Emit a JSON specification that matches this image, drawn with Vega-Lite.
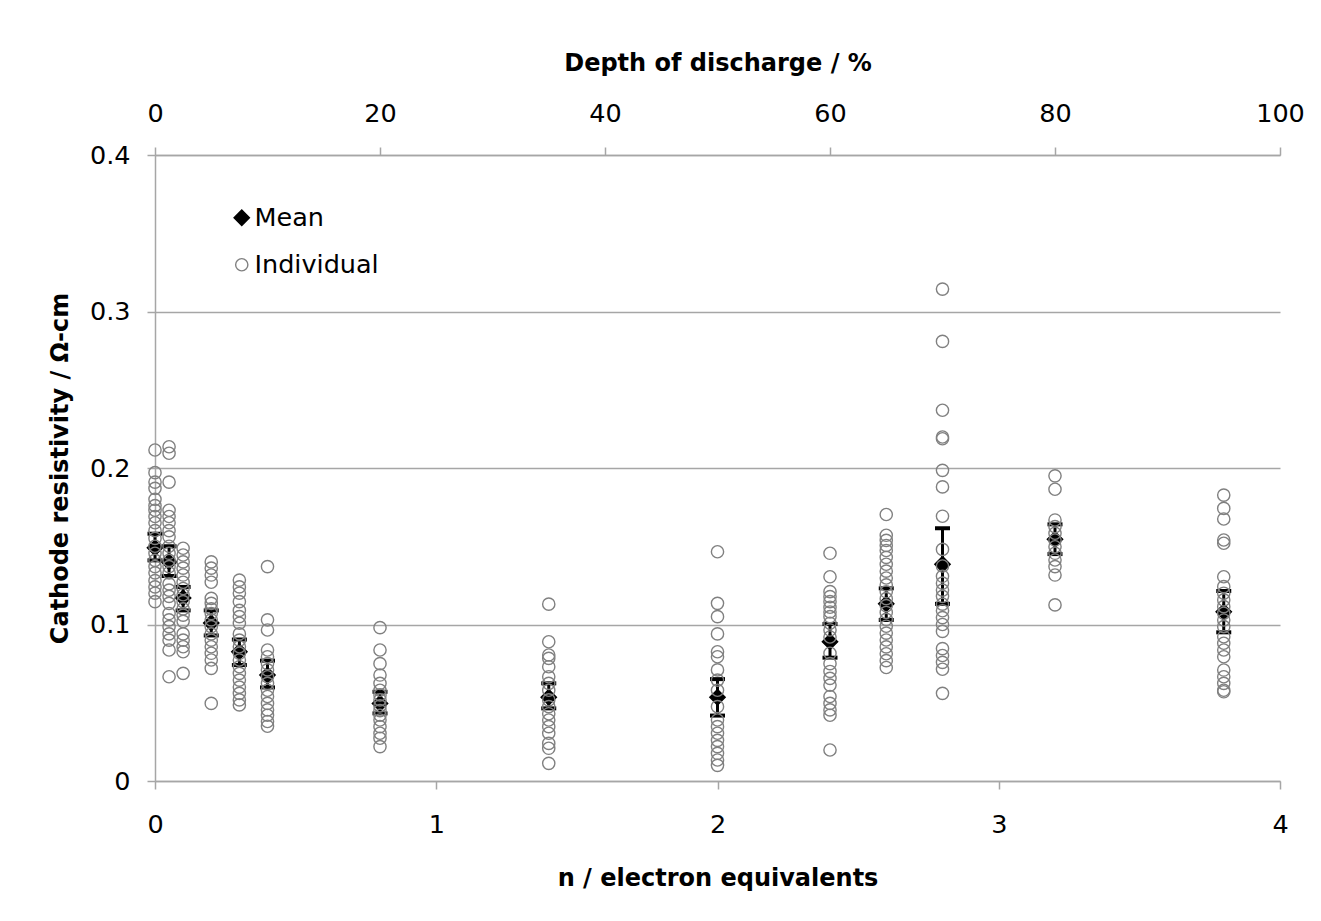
{
  "$schema": "https://vega.github.io/schema/vega-lite/v6.json",
  "width": 1125,
  "height": 626,
  "autosize": {"type": "none"},
  "padding": {"left": 155, "top": 155, "right": 41, "bottom": 140},
  "background": "white",
  "config": {
    "view": {"stroke": null},
    "font": "DejaVu Sans",
    "axis": {
      "domainColor": "#a6a6a6", "domainWidth": 1.5,
      "tickColor": "#a6a6a6", "tickWidth": 1.5, "tickSize": 8,
      "gridColor": "#a6a6a6", "gridWidth": 1.3,
      "labelFont": "DejaVu Sans", "labelFontSize": 25.5, "labelColor": "#000000",
      "labelFlush": false, "labelOverlap": false,
      "titleFont": "DejaVu Sans", "titleFontSize": 24, "titleFontWeight": "bold", "titleColor": "#000000"
    },
    "legend": {
      "labelFont": "DejaVu Sans", "labelFontSize": 25.5, "labelColor": "#000000",
      "labelOffset": 0, "rowPadding": 20, "symbolStrokeWidth": 1.4
    }
  },
  "datasets": {
    "means": [
      {"n": 0, "mean": 0.149, "lo": 0.141, "hi": 0.158, "series": "Mean"},
      {"n": 0.05, "mean": 0.140, "lo": 0.131, "hi": 0.150, "series": "Mean"},
      {"n": 0.1, "mean": 0.117, "lo": 0.109, "hi": 0.124, "series": "Mean"},
      {"n": 0.2, "mean": 0.101, "lo": 0.093, "hi": 0.109, "series": "Mean"},
      {"n": 0.3, "mean": 0.0826, "lo": 0.0741, "hi": 0.0904, "series": "Mean"},
      {"n": 0.4, "mean": 0.0677, "lo": 0.0598, "hi": 0.0769, "series": "Mean"},
      {"n": 0.8, "mean": 0.0496, "lo": 0.0432, "hi": 0.057, "series": "Mean"},
      {"n": 1.4, "mean": 0.0535, "lo": 0.0464, "hi": 0.0624, "series": "Mean"},
      {"n": 2.0, "mean": 0.0535, "lo": 0.0418, "hi": 0.0651, "series": "Mean"},
      {"n": 2.4, "mean": 0.089, "lo": 0.0788, "hi": 0.1003, "series": "Mean"},
      {"n": 2.6, "mean": 0.1132, "lo": 0.1029, "hi": 0.1231, "series": "Mean"},
      {"n": 2.8, "mean": 0.1385, "lo": 0.1132, "hi": 0.1615, "series": "Mean"},
      {"n": 3.2, "mean": 0.1544, "lo": 0.145, "hi": 0.164, "series": "Mean"},
      {"n": 3.8, "mean": 0.1081, "lo": 0.095, "hi": 0.1214, "series": "Mean"}
    ],
    "indiv": [
      {"n": 0, "r": 0.2115, "series": "Individual"},
      {"n": 0, "r": 0.197, "series": "Individual"},
      {"n": 0, "r": 0.191, "series": "Individual"},
      {"n": 0, "r": 0.187, "series": "Individual"},
      {"n": 0, "r": 0.180, "series": "Individual"},
      {"n": 0, "r": 0.176, "series": "Individual"},
      {"n": 0, "r": 0.173, "series": "Individual"},
      {"n": 0, "r": 0.169, "series": "Individual"},
      {"n": 0, "r": 0.165, "series": "Individual"},
      {"n": 0, "r": 0.160, "series": "Individual"},
      {"n": 0, "r": 0.155, "series": "Individual"},
      {"n": 0, "r": 0.150, "series": "Individual"},
      {"n": 0, "r": 0.1455, "series": "Individual"},
      {"n": 0, "r": 0.141, "series": "Individual"},
      {"n": 0, "r": 0.137, "series": "Individual"},
      {"n": 0, "r": 0.133, "series": "Individual"},
      {"n": 0, "r": 0.128, "series": "Individual"},
      {"n": 0, "r": 0.124, "series": "Individual"},
      {"n": 0, "r": 0.120, "series": "Individual"},
      {"n": 0, "r": 0.1146, "series": "Individual"},
      {"n": 0.05, "r": 0.2136, "series": "Individual"},
      {"n": 0.05, "r": 0.2094, "series": "Individual"},
      {"n": 0.05, "r": 0.191, "series": "Individual"},
      {"n": 0.05, "r": 0.173, "series": "Individual"},
      {"n": 0.05, "r": 0.169, "series": "Individual"},
      {"n": 0.05, "r": 0.165, "series": "Individual"},
      {"n": 0.05, "r": 0.160, "series": "Individual"},
      {"n": 0.05, "r": 0.156, "series": "Individual"},
      {"n": 0.05, "r": 0.150, "series": "Individual"},
      {"n": 0.05, "r": 0.1455, "series": "Individual"},
      {"n": 0.05, "r": 0.141, "series": "Individual"},
      {"n": 0.05, "r": 0.137, "series": "Individual"},
      {"n": 0.05, "r": 0.133, "series": "Individual"},
      {"n": 0.05, "r": 0.126, "series": "Individual"},
      {"n": 0.05, "r": 0.122, "series": "Individual"},
      {"n": 0.05, "r": 0.118, "series": "Individual"},
      {"n": 0.05, "r": 0.1135, "series": "Individual"},
      {"n": 0.05, "r": 0.107, "series": "Individual"},
      {"n": 0.05, "r": 0.103, "series": "Individual"},
      {"n": 0.05, "r": 0.0986, "series": "Individual"},
      {"n": 0.05, "r": 0.094, "series": "Individual"},
      {"n": 0.05, "r": 0.090, "series": "Individual"},
      {"n": 0.05, "r": 0.0837, "series": "Individual"},
      {"n": 0.05, "r": 0.0666, "series": "Individual"},
      {"n": 0.1, "r": 0.1487, "series": "Individual"},
      {"n": 0.1, "r": 0.1444, "series": "Individual"},
      {"n": 0.1, "r": 0.140, "series": "Individual"},
      {"n": 0.1, "r": 0.136, "series": "Individual"},
      {"n": 0.1, "r": 0.1316, "series": "Individual"},
      {"n": 0.1, "r": 0.127, "series": "Individual"},
      {"n": 0.1, "r": 0.123, "series": "Individual"},
      {"n": 0.1, "r": 0.119, "series": "Individual"},
      {"n": 0.1, "r": 0.1146, "series": "Individual"},
      {"n": 0.1, "r": 0.110, "series": "Individual"},
      {"n": 0.1, "r": 0.106, "series": "Individual"},
      {"n": 0.1, "r": 0.102, "series": "Individual"},
      {"n": 0.1, "r": 0.094, "series": "Individual"},
      {"n": 0.1, "r": 0.090, "series": "Individual"},
      {"n": 0.1, "r": 0.0858, "series": "Individual"},
      {"n": 0.1, "r": 0.0826, "series": "Individual"},
      {"n": 0.1, "r": 0.0688, "series": "Individual"},
      {"n": 0.2, "r": 0.140, "series": "Individual"},
      {"n": 0.2, "r": 0.136, "series": "Individual"},
      {"n": 0.2, "r": 0.1316, "series": "Individual"},
      {"n": 0.2, "r": 0.127, "series": "Individual"},
      {"n": 0.2, "r": 0.1167, "series": "Individual"},
      {"n": 0.2, "r": 0.1135, "series": "Individual"},
      {"n": 0.2, "r": 0.110, "series": "Individual"},
      {"n": 0.2, "r": 0.107, "series": "Individual"},
      {"n": 0.2, "r": 0.103, "series": "Individual"},
      {"n": 0.2, "r": 0.0986, "series": "Individual"},
      {"n": 0.2, "r": 0.094, "series": "Individual"},
      {"n": 0.2, "r": 0.090, "series": "Individual"},
      {"n": 0.2, "r": 0.0858, "series": "Individual"},
      {"n": 0.2, "r": 0.0816, "series": "Individual"},
      {"n": 0.2, "r": 0.0773, "series": "Individual"},
      {"n": 0.2, "r": 0.072, "series": "Individual"},
      {"n": 0.2, "r": 0.0496, "series": "Individual"},
      {"n": 0.3, "r": 0.1284, "series": "Individual"},
      {"n": 0.3, "r": 0.124, "series": "Individual"},
      {"n": 0.3, "r": 0.120, "series": "Individual"},
      {"n": 0.3, "r": 0.1146, "series": "Individual"},
      {"n": 0.3, "r": 0.109, "series": "Individual"},
      {"n": 0.3, "r": 0.105, "series": "Individual"},
      {"n": 0.3, "r": 0.1008, "series": "Individual"},
      {"n": 0.3, "r": 0.094, "series": "Individual"},
      {"n": 0.3, "r": 0.090, "series": "Individual"},
      {"n": 0.3, "r": 0.0858, "series": "Individual"},
      {"n": 0.3, "r": 0.0816, "series": "Individual"},
      {"n": 0.3, "r": 0.0773, "series": "Individual"},
      {"n": 0.3, "r": 0.073, "series": "Individual"},
      {"n": 0.3, "r": 0.0688, "series": "Individual"},
      {"n": 0.3, "r": 0.0645, "series": "Individual"},
      {"n": 0.3, "r": 0.060, "series": "Individual"},
      {"n": 0.3, "r": 0.056, "series": "Individual"},
      {"n": 0.3, "r": 0.0518, "series": "Individual"},
      {"n": 0.3, "r": 0.0486, "series": "Individual"},
      {"n": 0.4, "r": 0.137, "series": "Individual"},
      {"n": 0.4, "r": 0.103, "series": "Individual"},
      {"n": 0.4, "r": 0.0965, "series": "Individual"},
      {"n": 0.4, "r": 0.0837, "series": "Individual"},
      {"n": 0.4, "r": 0.0794, "series": "Individual"},
      {"n": 0.4, "r": 0.075, "series": "Individual"},
      {"n": 0.4, "r": 0.071, "series": "Individual"},
      {"n": 0.4, "r": 0.0666, "series": "Individual"},
      {"n": 0.4, "r": 0.0624, "series": "Individual"},
      {"n": 0.4, "r": 0.058, "series": "Individual"},
      {"n": 0.4, "r": 0.054, "series": "Individual"},
      {"n": 0.4, "r": 0.0496, "series": "Individual"},
      {"n": 0.4, "r": 0.0454, "series": "Individual"},
      {"n": 0.4, "r": 0.042, "series": "Individual"},
      {"n": 0.4, "r": 0.038, "series": "Individual"},
      {"n": 0.4, "r": 0.035, "series": "Individual"},
      {"n": 0.8, "r": 0.098, "series": "Individual"},
      {"n": 0.8, "r": 0.0837, "series": "Individual"},
      {"n": 0.8, "r": 0.075, "series": "Individual"},
      {"n": 0.8, "r": 0.0677, "series": "Individual"},
      {"n": 0.8, "r": 0.0624, "series": "Individual"},
      {"n": 0.8, "r": 0.058, "series": "Individual"},
      {"n": 0.8, "r": 0.055, "series": "Individual"},
      {"n": 0.8, "r": 0.0518, "series": "Individual"},
      {"n": 0.8, "r": 0.048, "series": "Individual"},
      {"n": 0.8, "r": 0.045, "series": "Individual"},
      {"n": 0.8, "r": 0.042, "series": "Individual"},
      {"n": 0.8, "r": 0.039, "series": "Individual"},
      {"n": 0.8, "r": 0.0347, "series": "Individual"},
      {"n": 0.8, "r": 0.0305, "series": "Individual"},
      {"n": 0.8, "r": 0.0273, "series": "Individual"},
      {"n": 0.8, "r": 0.022, "series": "Individual"},
      {"n": 1.4, "r": 0.113, "series": "Individual"},
      {"n": 1.4, "r": 0.089, "series": "Individual"},
      {"n": 1.4, "r": 0.0805, "series": "Individual"},
      {"n": 1.4, "r": 0.0784, "series": "Individual"},
      {"n": 1.4, "r": 0.073, "series": "Individual"},
      {"n": 1.4, "r": 0.0666, "series": "Individual"},
      {"n": 1.4, "r": 0.0624, "series": "Individual"},
      {"n": 1.4, "r": 0.058, "series": "Individual"},
      {"n": 1.4, "r": 0.0518, "series": "Individual"},
      {"n": 1.4, "r": 0.0475, "series": "Individual"},
      {"n": 1.4, "r": 0.043, "series": "Individual"},
      {"n": 1.4, "r": 0.039, "series": "Individual"},
      {"n": 1.4, "r": 0.0347, "series": "Individual"},
      {"n": 1.4, "r": 0.0305, "series": "Individual"},
      {"n": 1.4, "r": 0.024, "series": "Individual"},
      {"n": 1.4, "r": 0.0209, "series": "Individual"},
      {"n": 1.4, "r": 0.0113, "series": "Individual"},
      {"n": 2.0, "r": 0.1465, "series": "Individual"},
      {"n": 2.0, "r": 0.1135, "series": "Individual"},
      {"n": 2.0, "r": 0.105, "series": "Individual"},
      {"n": 2.0, "r": 0.094, "series": "Individual"},
      {"n": 2.0, "r": 0.0826, "series": "Individual"},
      {"n": 2.0, "r": 0.0794, "series": "Individual"},
      {"n": 2.0, "r": 0.071, "series": "Individual"},
      {"n": 2.0, "r": 0.0645, "series": "Individual"},
      {"n": 2.0, "r": 0.058, "series": "Individual"},
      {"n": 2.0, "r": 0.0475, "series": "Individual"},
      {"n": 2.0, "r": 0.039, "series": "Individual"},
      {"n": 2.0, "r": 0.0347, "series": "Individual"},
      {"n": 2.0, "r": 0.0305, "series": "Individual"},
      {"n": 2.0, "r": 0.026, "series": "Individual"},
      {"n": 2.0, "r": 0.022, "series": "Individual"},
      {"n": 2.0, "r": 0.0177, "series": "Individual"},
      {"n": 2.0, "r": 0.0134, "series": "Individual"},
      {"n": 2.0, "r": 0.010, "series": "Individual"},
      {"n": 2.4, "r": 0.1455, "series": "Individual"},
      {"n": 2.4, "r": 0.1305, "series": "Individual"},
      {"n": 2.4, "r": 0.121, "series": "Individual"},
      {"n": 2.4, "r": 0.1178, "series": "Individual"},
      {"n": 2.4, "r": 0.1146, "series": "Individual"},
      {"n": 2.4, "r": 0.111, "series": "Individual"},
      {"n": 2.4, "r": 0.108, "series": "Individual"},
      {"n": 2.4, "r": 0.105, "series": "Individual"},
      {"n": 2.4, "r": 0.1008, "series": "Individual"},
      {"n": 2.4, "r": 0.0965, "series": "Individual"},
      {"n": 2.4, "r": 0.092, "series": "Individual"},
      {"n": 2.4, "r": 0.0816, "series": "Individual"},
      {"n": 2.4, "r": 0.075, "series": "Individual"},
      {"n": 2.4, "r": 0.070, "series": "Individual"},
      {"n": 2.4, "r": 0.0656, "series": "Individual"},
      {"n": 2.4, "r": 0.0613, "series": "Individual"},
      {"n": 2.4, "r": 0.054, "series": "Individual"},
      {"n": 2.4, "r": 0.0496, "series": "Individual"},
      {"n": 2.4, "r": 0.0454, "series": "Individual"},
      {"n": 2.4, "r": 0.042, "series": "Individual"},
      {"n": 2.4, "r": 0.0198, "series": "Individual"},
      {"n": 2.6, "r": 0.1703, "series": "Individual"},
      {"n": 2.6, "r": 0.157, "series": "Individual"},
      {"n": 2.6, "r": 0.1538, "series": "Individual"},
      {"n": 2.6, "r": 0.1505, "series": "Individual"},
      {"n": 2.6, "r": 0.1473, "series": "Individual"},
      {"n": 2.6, "r": 0.1429, "series": "Individual"},
      {"n": 2.6, "r": 0.1385, "series": "Individual"},
      {"n": 2.6, "r": 0.1341, "series": "Individual"},
      {"n": 2.6, "r": 0.1297, "series": "Individual"},
      {"n": 2.6, "r": 0.1253, "series": "Individual"},
      {"n": 2.6, "r": 0.1209, "series": "Individual"},
      {"n": 2.6, "r": 0.1165, "series": "Individual"},
      {"n": 2.6, "r": 0.1121, "series": "Individual"},
      {"n": 2.6, "r": 0.1077, "series": "Individual"},
      {"n": 2.6, "r": 0.1033, "series": "Individual"},
      {"n": 2.6, "r": 0.0989, "series": "Individual"},
      {"n": 2.6, "r": 0.0945, "series": "Individual"},
      {"n": 2.6, "r": 0.0901, "series": "Individual"},
      {"n": 2.6, "r": 0.0857, "series": "Individual"},
      {"n": 2.6, "r": 0.0813, "series": "Individual"},
      {"n": 2.6, "r": 0.0769, "series": "Individual"},
      {"n": 2.6, "r": 0.0725, "series": "Individual"},
      {"n": 2.8, "r": 0.3143, "series": "Individual"},
      {"n": 2.8, "r": 0.2809, "series": "Individual"},
      {"n": 2.8, "r": 0.2369, "series": "Individual"},
      {"n": 2.8, "r": 0.2198, "series": "Individual"},
      {"n": 2.8, "r": 0.2187, "series": "Individual"},
      {"n": 2.8, "r": 0.1985, "series": "Individual"},
      {"n": 2.8, "r": 0.1879, "series": "Individual"},
      {"n": 2.8, "r": 0.1692, "series": "Individual"},
      {"n": 2.8, "r": 0.148, "series": "Individual"},
      {"n": 2.8, "r": 0.1374, "series": "Individual"},
      {"n": 2.8, "r": 0.1308, "series": "Individual"},
      {"n": 2.8, "r": 0.1264, "series": "Individual"},
      {"n": 2.8, "r": 0.122, "series": "Individual"},
      {"n": 2.8, "r": 0.118, "series": "Individual"},
      {"n": 2.8, "r": 0.113, "series": "Individual"},
      {"n": 2.8, "r": 0.1088, "series": "Individual"},
      {"n": 2.8, "r": 0.1044, "series": "Individual"},
      {"n": 2.8, "r": 0.1, "series": "Individual"},
      {"n": 2.8, "r": 0.0956, "series": "Individual"},
      {"n": 2.8, "r": 0.0846, "series": "Individual"},
      {"n": 2.8, "r": 0.0802, "series": "Individual"},
      {"n": 2.8, "r": 0.0758, "series": "Individual"},
      {"n": 2.8, "r": 0.0714, "series": "Individual"},
      {"n": 2.8, "r": 0.056, "series": "Individual"},
      {"n": 3.2, "r": 0.195, "series": "Individual"},
      {"n": 3.2, "r": 0.1864, "series": "Individual"},
      {"n": 3.2, "r": 0.1668, "series": "Individual"},
      {"n": 3.2, "r": 0.1625, "series": "Individual"},
      {"n": 3.2, "r": 0.1583, "series": "Individual"},
      {"n": 3.2, "r": 0.154, "series": "Individual"},
      {"n": 3.2, "r": 0.1497, "series": "Individual"},
      {"n": 3.2, "r": 0.1455, "series": "Individual"},
      {"n": 3.2, "r": 0.1412, "series": "Individual"},
      {"n": 3.2, "r": 0.137, "series": "Individual"},
      {"n": 3.2, "r": 0.1316, "series": "Individual"},
      {"n": 3.2, "r": 0.1125, "series": "Individual"},
      {"n": 3.8, "r": 0.1827, "series": "Individual"},
      {"n": 3.8, "r": 0.1742, "series": "Individual"},
      {"n": 3.8, "r": 0.1674, "series": "Individual"},
      {"n": 3.8, "r": 0.154, "series": "Individual"},
      {"n": 3.8, "r": 0.1519, "series": "Individual"},
      {"n": 3.8, "r": 0.1305, "series": "Individual"},
      {"n": 3.8, "r": 0.1242, "series": "Individual"},
      {"n": 3.8, "r": 0.12, "series": "Individual"},
      {"n": 3.8, "r": 0.1157, "series": "Individual"},
      {"n": 3.8, "r": 0.1114, "series": "Individual"},
      {"n": 3.8, "r": 0.1072, "series": "Individual"},
      {"n": 3.8, "r": 0.1029, "series": "Individual"},
      {"n": 3.8, "r": 0.0986, "series": "Individual"},
      {"n": 3.8, "r": 0.0922, "series": "Individual"},
      {"n": 3.8, "r": 0.088, "series": "Individual"},
      {"n": 3.8, "r": 0.0837, "series": "Individual"},
      {"n": 3.8, "r": 0.0794, "series": "Individual"},
      {"n": 3.8, "r": 0.0709, "series": "Individual"},
      {"n": 3.8, "r": 0.0666, "series": "Individual"},
      {"n": 3.8, "r": 0.0624, "series": "Individual"},
      {"n": 3.8, "r": 0.058, "series": "Individual"},
      {"n": 3.8, "r": 0.057, "series": "Individual"}
    ]
  },
  "layer": [
    {
      "layer": [
        {
          "data": {"name": "means"},
          "mark": {"type": "rule", "color": "#000000", "strokeWidth": 3},
          "encoding": {
            "x": {"field": "n", "type": "quantitative", "scale": {"domain": [0, 4], "nice": false},
              "axis": {"orient": "bottom", "values": [0, 1, 2, 3, 4], "format": "d", "grid": false,
                "title": "n / electron equivalents", "titleX": 562.5, "titleY": 104, "titleBaseline": "alphabetic",
                "labelBaseline": "alphabetic", "labelPadding": 43.5}},
            "y": {"field": "lo", "type": "quantitative", "scale": {"domain": [0, 0.4], "nice": false},
              "axis": {"values": [0, 0.1, 0.2, 0.3, 0.4], "format": ".1~f", "grid": true,
                "title": "Cathode resistivity / Ω-cm", "titleX": -88, "titleY": 313, "titleAngle": 270,
                "titleAlign": "center", "titleBaseline": "alphabetic", "labelPadding": 17}},
            "y2": {"field": "hi"}
          }
        },
        {
          "data": {"name": "means"},
          "mark": {"type": "tick", "orient": "horizontal", "color": "#000000", "size": 15, "thickness": 4, "opacity": 1},
          "encoding": {
            "x": {"field": "n", "type": "quantitative"},
            "y": {"field": "lo", "type": "quantitative"}
          }
        },
        {
          "data": {"name": "means"},
          "mark": {"type": "tick", "orient": "horizontal", "color": "#000000", "size": 15, "thickness": 4, "opacity": 1},
          "encoding": {
            "x": {"field": "n", "type": "quantitative"},
            "y": {"field": "hi", "type": "quantitative"}
          }
        },
        {
          "data": {"name": "means"},
          "mark": {"type": "point", "opacity": 1, "strokeWidth": 1.4},
          "encoding": {
            "x": {"field": "n", "type": "quantitative"},
            "y": {"field": "mean", "type": "quantitative"},
            "shape": {"field": "series", "type": "nominal", "scale": {"domain": ["Mean", "Individual"], "range": ["diamond", "circle"]},
              "legend": {"title": null, "orient": "none", "legendX": 74, "legendY": 50}},
            "fill": {"field": "series", "type": "nominal", "scale": {"domain": ["Mean", "Individual"], "range": ["#000000", "transparent"]}},
            "stroke": {"field": "series", "type": "nominal", "scale": {"domain": ["Mean", "Individual"], "range": ["#000000", "#808080"]}},
            "size": {"field": "series", "type": "nominal", "scale": {"domain": ["Mean", "Individual"], "range": [235, 150]}}
          }
        },
        {
          "data": {"name": "indiv"},
          "mark": {"type": "point", "opacity": 1, "strokeWidth": 1.4},
          "encoding": {
            "x": {"field": "n", "type": "quantitative"},
            "y": {"field": "r", "type": "quantitative"},
            "shape": {"field": "series", "type": "nominal",
              "legend": {"title": null, "orient": "none", "legendX": 74, "legendY": 50}},
            "fill": {"field": "series", "type": "nominal"},
            "stroke": {"field": "series", "type": "nominal"},
            "size": {"field": "series", "type": "nominal"}
          }
        }
      ]
    },
    {
      "data": {"values": [{"dod": 0}, {"dod": 100}]},
      "mark": {"type": "point", "opacity": 0},
      "encoding": {
        "x": {"field": "dod", "type": "quantitative", "scale": {"domain": [0, 100], "nice": false},
          "axis": {"orient": "top", "values": [0, 20, 40, 60, 80, 100], "format": "d", "grid": false,
            "title": "Depth of discharge / %", "titleX": 562.5, "titleY": -85, "titleBaseline": "alphabetic",
            "labelBaseline": "alphabetic", "labelPadding": 25.5}}
      }
    }
  ],
  "resolve": {"scale": {"x": "independent"}}
}
